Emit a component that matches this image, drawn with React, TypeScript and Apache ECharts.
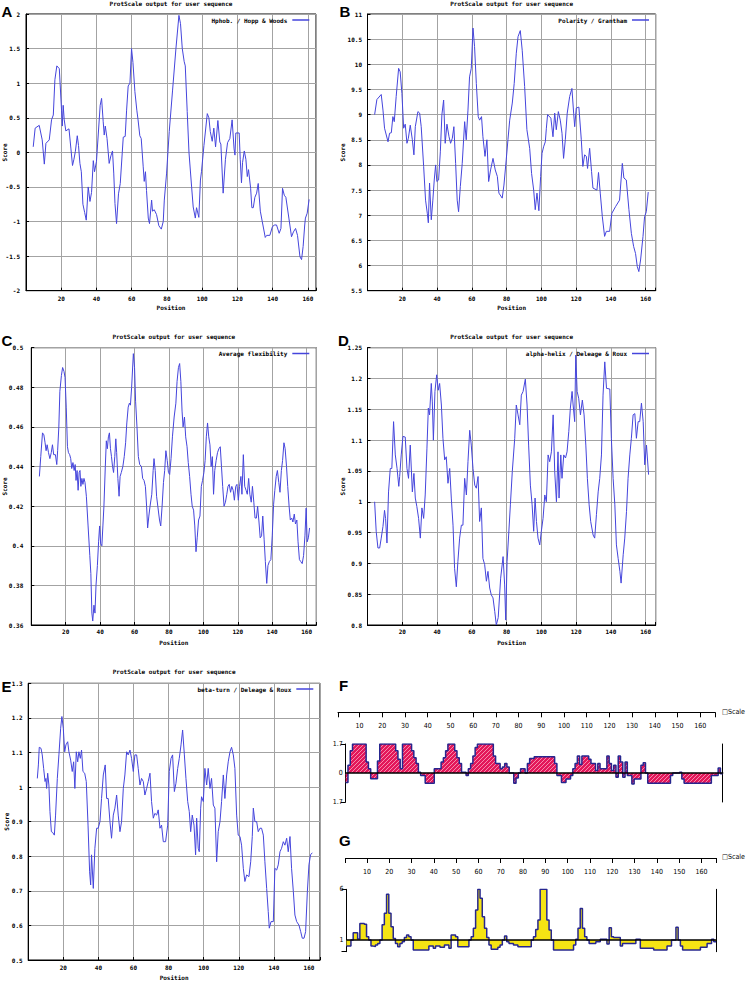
import React, { useEffect, useRef } from 'react';
import * as echarts from 'echarts';

// ---------------- data ----------------
const TITLE = 'ProtScale output for user sequence';
const X_NAME = 'Position';
const Y_NAME = 'Score';
const SCALE_TEXT = '\u25A1Scale';

const NAME_A = 'Hphob. / Hopp & Woods';
const NAME_B = 'Polarity / Grantham';
const NAME_C = 'Average flexibility';
const NAME_D = 'alpha-helix / Deleage & Roux';
const NAME_E = 'beta-turn / Deleage & Roux';
const NAME_F = 'Antigenic index';
const NAME_G = 'Surface probability';

const RULER_MIN = 0.5;
const RULER_MAX = 166.5;
const RULER_TICKS = [10, 20, 30, 40, 50, 60, 70, 80, 90, 100, 110, 120, 130, 140, 150, 160];
const F_LABELS = [-1.7, 0, 1.7];
const G_LABELS = [1, 6];
const G_BASELINE = 1;

const HOPP_WOODS: [number, number][] = [
  [4.1,0.08],[5.2,0.35],[7.5,0.39],[9.2,0.18],[10.4,-0.17],[11.3,0.13],[13.2,0.18],[14.5,0.47],[15.5,0.54],[16.4,1.05],
  [17.5,1.25],[18.9,1.21],[20.2,0.6],[20.6,0.38],[21.1,0.68],[21.7,0.47],[22.6,0.31],[24.4,0.34],[25.5,0.05],[26.4,-0.19],
  [27.2,-0.1],[28,0.01],[29.1,0.24],[29.8,0.1],[30.6,-0.16],[31.4,-0.28],[32.3,-0.75],[33.3,-0.87],[34.2,-0.98],[35.3,-0.5],
  [36.3,-0.71],[37.2,-0.58],[38.2,-0.12],[38.9,-0.28],[40,-0.13],[42.1,0.68],[42.9,0.78],[43.8,0.45],[44.4,0.25],[45,0.38],
  [46,0.2],[47.2,-0.16],[48.2,-0.05],[49.1,0.02],[49.8,-0.3],[50.5,-0.74],[51.4,-1.03],[52.5,-0.6],[53.5,-0.45],[55.2,0.22],
  [56.3,0.23],[57.1,0.61],[58,0.96],[59,1.0],[59.9,1.5],[60.7,1.3],[61.8,0.88],[62.9,0.61],[63.6,0.47],[64.6,0.24],
  [65.4,0.2],[66.5,-0.2],[67.1,-0.42],[67.8,-0.28],[68.4,-0.55],[69.4,-0.95],[70.1,-1.03],[71.3,-0.69],[71.8,-0.85],[72.8,-0.83],
  [74.1,-0.9],[75.4,-1.06],[76.8,-1.11],[77.9,-1.0],[78.5,-0.69],[79.8,-0.3],[81.3,0.3],[83.2,0.9],[85.1,1.5],[86.8,1.98],
  [87.7,1.86],[88.7,1.5],[89.8,1.31],[90.4,1.25],[91.5,0.59],[92.5,0.0],[94,-0.5],[94.9,-0.79],[96.1,-0.95],[96.8,-0.8],
  [98.1,-0.94],[99,-0.4],[99.6,-0.28],[101,0.1],[102.9,0.56],[103.8,0.5],[104.6,0.3],[105.7,0.16],[106.6,0.35],[107.6,0.08],
  [108.9,0.46],[110,0.15],[110.6,0.12],[111.9,-0.59],[113.2,-0.1],[114.4,0.14],[115.7,0.2],[117,0.47],[118.1,0.05],[118.6,-0.04],
  [119.1,0.28],[121,0.28],[121.6,-0.1],[122.3,-0.44],[122.9,-0.15],[123.9,0.02],[124.8,-0.1],[125.6,-0.35],[126.3,-0.25],[127.5,-0.52],
  [128.2,-0.8],[129,-0.8],[129.9,-0.65],[130.9,-0.59],[131.8,-0.45],[133,-0.85],[134.1,-1.0],[135.8,-1.23],[136.6,-1.2],[138.4,-1.2],
  [139.8,-1.08],[140.9,-1.05],[142.2,-1.05],[143.7,-1.17],[144.7,-1.1],[145.6,-0.52],[146.6,-0.62],[147.5,-0.65],[149.2,-0.95],[150.7,-1.22],
  [151.8,-1.15],[153,-1.1],[154.1,-1.2],[155.5,-1.51],[156.4,-1.55],[157.3,-1.36],[158.2,-1.05],[158.6,-0.95],[159.6,-0.88],[160.7,-0.68]
];

const GRANTHAM: [number, number][] = [
  [4.1,9.0],[5.4,9.3],[7.9,9.4],[8.9,9.09],[9.8,8.73],[11.8,8.46],[12.7,8.63],[13.7,8.64],[14.6,8.96],[15.4,8.86],
  [16.5,9.36],[17.9,9.92],[18.8,9.85],[19.8,9.42],[20.8,8.73],[21.7,8.81],[22.7,8.43],[23.5,8.53],[24.6,8.79],[25.8,8.5],
  [26.7,8.2],[27.5,8.76],[29,9.06],[30,9.03],[30.9,8.76],[32.3,7.97],[33.4,7.3],[34.4,7.04],[35,6.85],[35.7,7.64],
  [36.7,6.91],[37.6,7.3],[38.4,7.7],[39.2,8.0],[39.9,7.67],[40.9,7.7],[41.9,8.26],[42.8,9.0],[43.8,9.29],[44.7,8.43],
  [45.7,8.81],[46.9,8.56],[47.8,8.43],[48.8,8.53],[49.7,8.76],[50.7,8.03],[51.6,7.3],[52.4,7.07],[53.4,7.57],[54.5,8.03],
  [55.9,8.86],[56.8,8.5],[57.8,9.09],[58.7,9.75],[59.7,9.92],[60.7,10.72],[61.6,10.35],[62.6,9.62],[63.7,8.96],[64.5,8.89],
  [65.6,8.96],[66.4,8.56],[67.6,8.17],[68.7,8.5],[69.7,7.67],[70.8,7.9],[72.2,8.13],[73.5,7.9],[74.7,7.77],[75.6,7.44],
  [77.5,7.34],[78.5,7.6],[79.8,8.1],[80.8,8.5],[81.8,8.89],[83.3,9.23],[84.4,9.62],[85.6,10.22],[86.6,10.55],[87.9,10.67],
  [89,10.28],[90.4,9.56],[91.7,8.7],[93.3,8.33],[94.4,7.83],[95.6,7.5],[96.5,7.11],[97.5,7.44],[98.6,7.09],[99.6,7.77],
  [100.4,8.23],[101.3,8.36],[102.3,8.46],[102.9,8.73],[103.6,9.0],[105.5,8.93],[106.7,8.56],[107.7,9.03],[108.6,8.7],[109.8,9.06],
  [110.9,8.89],[111.9,8.63],[112.8,8.13],[113.8,8.5],[114.9,9.03],[116.3,9.36],[117.6,9.52],[118.6,9.03],[119.2,8.76],[120.1,9.13],
  [121.6,9.15],[123,8.5],[123.9,7.97],[124.9,8.2],[125.9,8.17],[126.6,7.93],[127.8,8.33],[128.9,7.87],[129.7,7.54],[132,7.5],
  [132.9,7.85],[133.9,7.44],[135.1,6.97],[136.4,6.58],[137.4,6.68],[139.3,6.68],[140.6,7.04],[142.7,7.17],[145,7.3],[146.6,8.03],
  [147.5,7.74],[148.9,7.7],[150.4,7.11],[151.8,6.64],[153.1,6.38],[154.2,6.24],[155.2,5.98],[156.1,5.88],[157.1,6.11],[158.5,6.58],
  [159.4,6.97],[160.4,7.07],[161.5,7.46]
];

const FLEXIBILITY: [number, number][] = [
  [4.7,0.435],[5.5,0.445],[6.5,0.457],[7.3,0.456],[8,0.452],[8.6,0.448],[9.2,0.451],[10,0.447],[10.8,0.444],[11.6,0.447],
  [12.3,0.451],[13,0.446],[14,0.446],[14.8,0.441],[15.3,0.448],[16,0.46],[16.6,0.478],[17.5,0.486],[18.2,0.49],[19,0.488],
  [19.6,0.485],[20.3,0.47],[21,0.45],[21.6,0.447],[22.3,0.446],[22.9,0.444],[23.5,0.439],[24.2,0.442],[24.9,0.438],[25.5,0.441],
  [26,0.433],[26.6,0.438],[27.2,0.428],[27.8,0.437],[28.3,0.438],[28.8,0.43],[29.4,0.434],[30,0.431],[30.6,0.434],[31.2,0.432],
  [32,0.425],[33,0.41],[34,0.395],[34.6,0.386],[35.2,0.366],[35.7,0.362],[36.4,0.37],[37,0.366],[37.6,0.38],[38.4,0.39],
  [39.1,0.402],[39.7,0.41],[40.3,0.401],[41,0.4],[41.6,0.41],[42.2,0.42],[43,0.44],[43.6,0.453],[44.2,0.449],[44.8,0.455],
  [45.4,0.457],[46,0.449],[46.6,0.445],[47.2,0.44],[47.8,0.437],[48.5,0.445],[49.1,0.454],[49.6,0.447],[50.3,0.434],[51,0.425],
  [51.6,0.435],[52.3,0.437],[53.2,0.44],[54,0.445],[54.8,0.452],[55.5,0.462],[56.3,0.47],[57,0.472],[57.6,0.471],[58.3,0.48],
  [59.3,0.497],[60,0.49],[60.6,0.473],[61.4,0.46],[62.2,0.445],[63,0.441],[64,0.44],[64.7,0.434],[65.5,0.433],[66.3,0.43],
  [67,0.42],[67.6,0.409],[68.3,0.415],[69,0.42],[70,0.426],[70.8,0.438],[71.3,0.444],[72,0.438],[72.8,0.425],[73.5,0.42],
  [74.5,0.413],[75.2,0.41],[76,0.42],[76.8,0.432],[77.5,0.438],[78.2,0.448],[79,0.443],[79.7,0.437],[80.4,0.436],[81.2,0.444],
  [82,0.455],[83,0.465],[84,0.472],[84.7,0.483],[85.5,0.49],[86.2,0.492],[86.9,0.483],[87.6,0.468],[88.2,0.46],[89,0.465],
  [89.7,0.455],[90.5,0.45],[91.2,0.442],[92,0.435],[92.8,0.426],[93.5,0.42],[94.3,0.418],[95,0.41],[95.7,0.397],[96.4,0.404],
  [97.2,0.413],[98,0.415],[98.8,0.43],[99.5,0.433],[100.3,0.437],[101,0.443],[101.7,0.455],[102.4,0.462],[103.1,0.455],[103.8,0.451],
  [104.5,0.44],[105.2,0.445],[105.9,0.426],[106.6,0.438],[107.4,0.443],[108.2,0.447],[109,0.449],[109.8,0.45],[110.5,0.44],[111.2,0.43],
  [112,0.42],[112.8,0.422],[113.6,0.426],[114.3,0.43],[115,0.431],[115.8,0.427],[116.5,0.43],[117.3,0.428],[118,0.423],[118.8,0.43],
  [119.5,0.431],[120.3,0.423],[121,0.43],[121.8,0.435],[122.4,0.426],[123.2,0.446],[124,0.43],[124.8,0.428],[125.5,0.426],[126.3,0.434],
  [127,0.426],[127.8,0.422],[128.5,0.43],[129.3,0.422],[130,0.414],[130.8,0.414],[131.5,0.42],[132.3,0.412],[133,0.404],[133.8,0.405],
  [134.5,0.415],[135.3,0.403],[136,0.392],[136.8,0.381],[137.5,0.39],[138.3,0.392],[139.2,0.393],[140,0.405],[140.8,0.421],[141.5,0.428],
  [142.3,0.435],[143,0.438],[143.8,0.432],[144.5,0.427],[145.3,0.438],[146,0.443],[146.8,0.452],[147.5,0.449],[148.3,0.44],[149,0.43],
  [149.8,0.42],[150.5,0.413],[151.3,0.414],[152,0.412],[152.8,0.416],[153.5,0.411],[154.3,0.413],[155,0.402],[155.8,0.393],[156.6,0.392],
  [157.4,0.391],[158.2,0.395],[159,0.405],[159.7,0.419],[160.3,0.402],[161,0.404],[161.7,0.409]
];

const ALPHA_HELIX: [number, number][] = [
  [4.1,1.0],[5,0.952],[6,0.925],[7,0.925],[7.9,0.941],[8.9,0.96],[9.8,0.986],[10.4,0.973],[11.2,0.933],[12.1,1.016],
  [13.1,1.054],[14,1.054],[15,1.13],[16,1.076],[17,1.054],[18,1.025],[18.5,1.041],[19.4,1.076],[20.4,1.106],[21.7,1.105],
  [22.7,1.054],[23.6,1.038],[24.6,1.092],[25.8,1.016],[26.7,1.046],[27.5,1.006],[28.4,0.992],[29.4,0.973],[30.4,0.941],[31.3,0.99],
  [32.3,0.973],[33.2,1.011],[34.2,1.087],[35,1.152],[35.7,1.141],[36.7,1.192],[37.3,1.162],[37.9,1.1],[38.8,1.179],[39.8,1.206],
  [40.7,1.181],[41.5,1.192],[42.5,1.157],[43.4,1.103],[44.4,1.068],[45.3,1.073],[46.3,1.03],[47.3,1.054],[48.2,1.006],[49.2,0.962],
  [50.1,0.892],[51.1,0.862],[52,0.903],[53,0.941],[54,0.962],[54.9,0.962],[55.9,1.038],[56.9,1.011],[57.8,1.065],[58.8,1.116],
  [59.7,1.092],[60.7,1.054],[61.7,1.027],[62.6,1.022],[63.6,1.041],[64.5,0.968],[65.5,0.99],[66.4,0.908],[67.4,0.898],[68.4,0.871],
  [69.3,0.887],[70.3,0.86],[71.2,0.849],[72.2,0.844],[73.2,0.822],[74.1,0.8],[75.2,0.812],[76.6,0.876],[78,0.911],[78.9,0.865],
  [79.5,0.808],[80.3,0.903],[81.2,0.946],[82.2,0.995],[83.3,1.049],[84.7,1.103],[85.6,1.157],[86.6,1.141],[87.6,1.125],[88.5,1.173],
  [89.5,1.179],[90.8,1.199],[91.8,1.157],[92.7,1.092],[93.7,1.027],[94.7,0.995],[95.6,0.952],[96.4,1.006],[97.2,0.968],[98.1,0.941],
  [99.1,0.93],[100,0.952],[101,0.973],[102,1.011],[102.9,1.0],[103.9,1.076],[104.8,1.065],[105.8,1.081],[106.8,1.141],[107.7,1.049],
  [108.7,1.0],[109.6,1.081],[110.2,1.006],[111.2,1.076],[111.9,1.038],[112.9,1.076],[113.9,1.071],[114.8,1.081],[115.8,1.114],[116.7,1.152],
  [117.7,1.179],[118.3,1.157],[119.2,1.13],[119.8,1.238],[120.6,1.179],[121.5,1.168],[122.5,1.141],[123.6,1.165],[124.6,1.141],[125.6,1.092],
  [126.5,1.038],[127.5,0.995],[128.4,0.968],[129.8,0.946],[130.7,0.941],[131.7,0.979],[132.7,1.016],[133.6,1.038],[134.6,1.076],[135.5,1.173],
  [136.5,1.227],[137.5,1.184],[139.4,1.183],[140.3,1.103],[141.3,1.038],[142.3,0.995],[143.2,0.93],[144.2,0.908],[145.2,0.887],[145.9,0.868],
  [147.1,0.914],[148,0.941],[149,0.984],[149.9,1.038],[150.9,1.076],[151.8,1.103],[152.8,1.141],[153.8,1.143],[154.7,1.103],[155.7,1.13],
  [156.6,1.13],[157.6,1.16],[158.6,1.13],[159.5,1.06],[160.5,1.092],[161.7,1.044]
];

const BETA_TURN: [number, number][] = [
  [5.2,1.025],[5.8,1.064],[6.3,1.115],[7.3,1.112],[8,1.093],[8.8,1.054],[9.6,1.016],[10.1,1.025],[10.5,0.996],[11.1,1.04],
  [11.8,1.006],[12.4,0.929],[13.2,0.871],[13.9,0.869],[14.9,0.861],[15.6,0.919],[16.6,1.025],[17.5,1.093],[18.5,1.17],[19.2,1.204],
  [20,1.17],[20.8,1.102],[21.5,1.122],[22.5,1.131],[23.2,1.102],[24.2,1.078],[25.1,1.045],[25.9,1.073],[26.6,0.996],[27.4,1.102],
  [28.2,1.073],[28.9,1.102],[29.7,1.083],[30.4,1.107],[31.2,1.045],[32.2,1.04],[33.1,1.016],[34.1,0.89],[35,0.755],[35.6,0.717],
  [36.1,0.804],[37.1,0.707],[38,0.823],[39,0.881],[39.9,0.881],[40.9,0.9],[41.8,0.967],[42.8,1.035],[43.9,1.064],[44.7,0.967],
  [45.6,0.967],[46.6,0.9],[47.5,0.852],[48.5,0.919],[49.4,0.939],[50.4,0.977],[51.3,0.919],[52.3,0.871],[53.2,0.9],[54.2,0.996],
  [55.1,1.035],[56.1,1.102],[57,1.093],[58,1.107],[58.9,1.083],[59.9,1.045],[60.8,1.093],[61.8,1.093],[62.7,1.054],[63.7,1.006],
  [64.6,1.025],[65.6,1.016],[66.5,0.977],[67.5,0.996],[68.4,1.016],[69.4,1.04],[70.3,0.958],[71.3,0.91],[72.2,0.924],[73.2,0.919],
  [74.1,0.934],[75.1,0.881],[76,0.89],[77,0.842],[78.3,0.842],[79.5,0.89],[80.4,1.045],[81.4,1.083],[82.3,1.093],[83.3,0.987],
  [84.2,1.011],[85.2,1.054],[86.1,1.083],[87.1,1.122],[88,1.165],[89,1.093],[89.9,1.025],[90.9,0.958],[91.8,0.929],[92.6,0.871],
  [93.5,0.919],[94.5,0.89],[95.4,0.804],[96,0.91],[96.9,0.823],[97.5,0.813],[98.3,0.939],[98.8,0.972],[99.8,0.958],[100.7,1.054],
  [101.7,1.006],[102.6,1.054],[103.6,0.996],[104.5,1.025],[105.5,0.948],[106.4,0.939],[107.4,0.784],[108.3,0.871],[109.3,0.9],[110.2,0.958],
  [111.2,1.035],[112.1,0.967],[113.1,1.035],[114,1.073],[115,1.102],[115.9,1.115],[116.9,1.093],[117.8,1.054],[118.8,0.919],[119.7,0.861],
  [120.7,0.857],[121.6,0.832],[122.6,0.765],[123.5,0.727],[124.5,0.746],[125.8,0.741],[126.8,0.784],[127.7,0.857],[128.3,0.939],[129.2,0.9],
  [130.2,0.9],[131.1,0.871],[132.1,0.881],[133,0.881],[134,0.861],[134.9,0.784],[135.9,0.707],[136.8,0.64],[137.4,0.592],[138.4,0.611],
  [139.7,0.611],[140.6,0.765],[141.6,0.76],[142.5,0.775],[143.5,0.813],[144.4,0.823],[145.4,0.842],[146.3,0.832],[147.3,0.852],[148.2,0.813],
  [149.2,0.857],[150.1,0.765],[151.1,0.698],[152,0.63],[153,0.611],[154.3,0.601],[155.3,0.582],[156.2,0.563],[157.2,0.563],[158.1,0.582],
  [159.1,0.698],[160,0.775],[160.9,0.804],[161.9,0.81]
];

// per-residue values, residues 1..166
const ANTIGENIC: number[] = [
  -0.55, 0.45, 1.3, 1.7, 1.7, 1.7, 1.7, 1.7, 1.7, 0.65,
  0.25, -0.33, -0.33, -0.33, 0.7, 1.7, 1.7, 1.7, 1.7, 1.7,
  1.7, 1.7, 1.3, 0.8, 0.25, 1.7, 1.7, 1.7, 1.7, 1.3,
  0.9, 0.55, 0.05, -0.15, -0.15, -0.6, -0.6, -0.6, -0.6, 0.25,
  0.25, 0.25, 0.65, 0.9, 1.3, 1.7, 1.7, 1.7, 1.3, 0.9,
  0.55, 0.05, 0.05, -0.15, 0.25, 0.55, 1.0, 1.5, 1.7, 1.7,
  1.7, 1.7, 1.7, 1.7, 1.7, 1.0, 0.55, 0.55, 0.25, 0.35,
  0.55, 0.35, 0, 0, -0.6, -0.3, 0, 0.25, 0.25, 0,
  0.55, 0.85, 0.85, 0.95, 0.95, 0.95, 0.95, 0.95, 0.95, 0.95,
  0.95, 0.95, 0.55, -0.15, -0.15, -0.55, -0.55, -0.35, -0.35, -0.15,
  0.25, 0.55, 1.0, 0.5, 1.0, 1.0, 1.0, 0.8, 0.55, 0.55,
  0.15, 0.55, 0.25, 0.25, 0.25, 1.0, 0.55, 0.15, 0.45, -0.25,
  1.0, 0.65, -0.25, 0.65, -0.15, -0.15, -0.65, -0.35, -0.35, -0.35,
  0.45, 0.6, 0, -0.6, -0.6, -0.6, -0.6, -0.6, -0.6, -0.6,
  -0.6, -0.6, -0.6, -0.15, 0, 0, 0, 0.05, -0.35, -0.6,
  -0.6, -0.6, -0.6, -0.6, -0.6, -0.6, -0.6, -0.6, -0.6, -0.6,
  -0.6, -0.15, -0.15, -0.15, 0.3, -0.05
];

const SURFACE: number[] = [
  0.41, 0.41, 1.0, 1.72, 1.72, 1.1, 2.64, 2.64, 2.55, 1.33,
  1.0, 0.4, 0.35, 0.5, 0.67, 1.0, 2.5, 3.63, 5.5, 3.63,
  2.3, 1.16, 0.67, 0.34, 0.67, 0.84, 1.26, 1.49, 1.33, 1.0,
  0.01, 0.01, 0.01, 0.01, 0.01, 0.01, 0.01, 0.41, 0.41, 0.18,
  0.41, 0.41, 0.28, 0.28, 0.5, 0.5, 0.18, 1.49, 1.49, 1.33,
  0.34, 0.34, 0.34, 0.34, 0.34, 1.0, 1.33, 2.15, 3.96, 6.0,
  5.11, 3.3, 2.15, 1.26, 0.5, 0.08, 0.08, 0.08, 0.28, 0.5,
  1.0, 1.39, 0.84, 0.67, 0.67, 0.5, 0.5, 0.34, 0.34, 0.34,
  0.34, 0.34, 0.34, 1.0, 1.33, 2.05, 2.97, 6.0, 6.0, 6.0,
  2.97, 1.99, 1.0, 0.01, 0.01, 0.01, 0.01, 0.01, 0.01, 0.01,
  0.01, 0.01, 0.5, 1.07, 2.15, 4.12, 2.15, 1.33, 1.0, 0.67,
  0.67, 0.67, 0.84, 0.84, 1.07, 1.07, 1.07, 0.6, 2.22, 1.33,
  1.26, 1.26, 1.26, 0.41, 0.67, 0.67, 0.67, 0.67, 0.67, 0.67,
  1.07, 1.07, 0.18, 0.18, 0.18, 0.18, 0.18, 0.18, 0.01, 0.01,
  0.01, 0.01, 0.01, 0.01, 0.41, 0.41, 1.0, 1.0, 2.25, 1.0,
  0.41, 0.01, 0.01, 0.01, 0.01, 0.01, 0.01, 0.01, 0.01, 0.28,
  0.28, 0.28, 0.67, 0.67, 1.07, 0.84
];

// ---------------- styling / layout ----------------
const MONO = "'DejaVu Sans Mono', monospace";
const NARROW = "'Liberation Sans Narrow', 'DejaVu Sans Condensed', sans-serif";
const LETTER_FONT = "bold 15px 'Liberation Sans', Arial, sans-serif";
const LINE_COLOR = '#4545dc';
const GRID_COLOR = '#a3a3a3';
const OUTLINE = '#26268f';
const YELLOW = '#f5e414';

type Panel = {
  name: string; data: [number, number][]; letter: string;
  left: number; top: number; width: number; height: number; xMax: number;
  yMin: number; yMax: number; yStep: number;
  yLabelMargin: number; xLabelMargin: number; scoreX: number;
  legendRight: number; legendTop: number; letterX: number; letterY: number; titleY: number;
};

const PANELS: Panel[] = [
  { name: NAME_A, data: HOPP_WOODS, letter: 'A', left: 26, top: 14, width: 290, height: 276.7, xMax: 164.6,
    yMin: -2, yMax: 2, yStep: 0.5, yLabelMargin: 6, xLabelMargin: 5, scoreX: 4.5,
    legendRight: 436.7, legendTop: 17, letterX: 1.5, letterY: 11.5, titleY: 3.5 },
  { name: NAME_B, data: GRANTHAM, letter: 'B', left: 367.5, top: 14, width: 288.2, height: 276.7, xMax: 165.8,
    yMin: 5.5, yMax: 11, yStep: 0.5, yLabelMargin: 5.5, xLabelMargin: 5, scoreX: 342,
    legendRight: 97, legendTop: 17, letterX: 339.5, letterY: 11, titleY: 3.5 },
  { name: NAME_C, data: FLEXIBILITY, letter: 'C', left: 31.3, top: 347.7, width: 285, height: 277.3, xMax: 165.6,
    yMin: 0.36, yMax: 0.5, yStep: 0.02, yLabelMargin: 8, xLabelMargin: 3.5, scoreX: 4.5,
    legendRight: 436.7, legendTop: 350.5, letterX: 1.5, letterY: 340, titleY: 336.7 },
  { name: NAME_D, data: ALPHA_HELIX, letter: 'D', left: 367.5, top: 347.7, width: 288.2, height: 277.3, xMax: 165.8,
    yMin: 0.8, yMax: 1.25, yStep: 0.05, yLabelMargin: 5.5, xLabelMargin: 3.5, scoreX: 342,
    legendRight: 97, legendTop: 350.5, letterX: 338, letterY: 340, titleY: 336.7 },
  { name: NAME_E, data: BETA_TURN, letter: 'E', left: 28.2, top: 683.3, width: 291.8, height: 276.7, xMax: 166.3,
    yMin: 0.5, yMax: 1.3, yStep: 0.1, yLabelMargin: 5.5, xLabelMargin: 4, scoreX: 6,
    legendRight: 432.7, legendTop: 686, letterX: 1.5, letterY: 686, titleY: 671.7 },
];

const smallText = { fontSize: 6, fontFamily: MONO, fontWeight: 'bold' as const, color: '#000' };

function stepData(vals: number[]): [number, number][] {
  const pts: [number, number][] = vals.map((v, i) => [i + 0.5, v]);
  pts.push([vals.length + 0.5, vals[vals.length - 1]]);
  return pts;
}

function makeHatch(): HTMLCanvasElement {
  const c = document.createElement('canvas');
  c.width = 4; c.height = 4;
  const ctx = c.getContext('2d')!;
  ctx.fillStyle = '#e3175a';
  ctx.fillRect(0, 0, 4, 4);
  ctx.fillStyle = '#f58aac';
  for (let i = 0; i < 4; i++) ctx.fillRect(i, 3 - i, 1, 1);
  return c;
}

function buildOption() {
  const grid: any[] = [];
  const xAxis: any[] = [];
  const yAxis: any[] = [];
  const series: any[] = [];
  const legend: any[] = [];
  const graphic: any[] = [];

  PANELS.forEach((p, i) => {
    grid.push({ left: p.left, top: p.top, width: p.width, height: p.height, show: true,
      borderColor: '#000', borderWidth: 1, containLabel: false, outerBoundsMode: 'none' });
    xAxis.push({
      type: 'value', gridIndex: i, min: 0, max: p.xMax, interval: 20,
      axisLine: { show: true, onZero: false, lineStyle: { color: '#000', width: 1 } },
      axisTick: { show: true, inside: true, length: 3, lineStyle: { color: '#000' } },
      axisLabel: { ...smallText, margin: p.xLabelMargin,
        formatter: (v: number) => (v > 0 && Math.abs(v % 20) < 1e-6 ? String(v) : '') },
      splitLine: { show: true, lineStyle: { color: GRID_COLOR, width: 1 } },
      name: X_NAME, nameLocation: 'middle', nameGap: 14, nameTextStyle: smallText,
    });
    yAxis.push({
      type: 'value', gridIndex: i, min: p.yMin, max: p.yMax, interval: p.yStep,
      axisLine: { show: true, lineStyle: { color: '#000', width: 1 } },
      axisTick: { show: true, inside: true, length: 3, lineStyle: { color: '#000' } },
      axisLabel: { ...smallText, margin: p.yLabelMargin },
      splitLine: { show: true, lineStyle: { color: GRID_COLOR, width: 1 } },
    });
    series.push({
      type: 'line', name: p.name, xAxisIndex: i, yAxisIndex: i, data: p.data,
      showSymbol: false, symbol: 'none', color: LINE_COLOR,
      lineStyle: { color: LINE_COLOR, width: 1 },
    });
    legend.push({
      data: [p.name], right: p.legendRight, top: p.legendTop, align: 'right', orient: 'horizontal',
      icon: 'rect', itemWidth: 17, itemHeight: 1.5, padding: 0, itemGap: 0, selectedMode: false,
      textStyle: { fontSize: 6, fontFamily: MONO, fontWeight: 'bold', color: '#000' },
    });
    graphic.push({ type: 'text', x: p.left + p.width / 2, y: p.titleY, silent: true,
      style: { text: TITLE, align: 'center', verticalAlign: 'middle', font: `bold 6px ${MONO}`, fill: '#000' } });
    graphic.push({ type: 'text', x: p.scoreX, y: p.top + p.height / 2, rotation: Math.PI / 2, silent: true,
      style: { text: Y_NAME, align: 'center', verticalAlign: 'middle', font: `bold 6px ${MONO}`, fill: '#000' } });
    graphic.push({ type: 'text', x: p.letterX, y: p.letterY, silent: true,
      style: { text: p.letter, align: 'left', verticalAlign: 'middle', font: LETTER_FONT, fill: '#000' } });
  });

  const hatch = makeHatch();
  grid.push({ left: 345.7, top: 744, width: 377, height: 58, containLabel: false, outerBoundsMode: 'none' }); // 5 F
  grid.push({ left: 338, top: 711.3, width: 377, height: 1, containLabel: false, outerBoundsMode: 'none' }); // 6 F ruler
  grid.push({ left: 346.5, top: 889.3, width: 369.5, height: 62.4, containLabel: false, outerBoundsMode: 'none' }); // 7 G
  grid.push({ left: 345.7, top: 857, width: 370.3, height: 1, containLabel: false, outerBoundsMode: 'none' }); // 8 G ruler

  const hidden = { show: false };
  const narrowLabel = { fontSize: 7, fontFamily: NARROW, color: '#000' };

  xAxis.push({ type: 'value', gridIndex: 5, min: RULER_MIN, max: RULER_MAX, z: 10,
    axisLine: { show: true, onZero: true, lineStyle: { color: '#000', width: 1.5 } },
    axisTick: hidden, axisLabel: hidden, splitLine: hidden });
  const rulerAxis = (gi: number) => ({ type: 'value', gridIndex: gi, min: RULER_MIN, max: RULER_MAX, position: 'bottom',
    axisLine: { show: true, onZero: false, lineStyle: { color: '#000', width: 1 } },
    axisTick: { show: true, inside: false, length: 5, customValues: [RULER_MIN, ...RULER_TICKS, RULER_MAX],
      lineStyle: { color: '#000', width: 1 } },
    axisLabel: { ...narrowLabel, customValues: RULER_TICKS, margin: 10 },
    splitLine: hidden });
  xAxis.push(rulerAxis(6));
  xAxis.push({ type: 'value', gridIndex: 7, min: RULER_MIN, max: RULER_MAX,
    axisLine: hidden, axisTick: hidden, axisLabel: hidden, splitLine: hidden });
  xAxis.push(rulerAxis(8));

  yAxis.push({ type: 'value', gridIndex: 5, min: -1.7, max: 1.7, position: 'left',
    axisLine: { show: true, onZero: false, lineStyle: { color: '#000', width: 1 } },
    axisTick: { show: true, inside: false, length: 5, customValues: [-1.7, 1.7], lineStyle: { color: '#000' } },
    axisLabel: { ...narrowLabel, customValues: F_LABELS, margin: 3,
      formatter: (v: number) => String(Math.abs(v)) },
    splitLine: hidden });
  yAxis.push({ type: 'value', gridIndex: 5, min: -1.7, max: 1.7, position: 'right',
    axisLine: { show: true, onZero: false, lineStyle: { color: '#000', width: 1 } },
    axisTick: hidden, axisLabel: hidden, splitLine: hidden });
  yAxis.push({ type: 'value', gridIndex: 6, min: 0, max: 1, show: false });
  yAxis.push({ type: 'value', gridIndex: 7, min: -0.15, max: 6, position: 'left',
    axisLine: { show: true, onZero: false, lineStyle: { color: '#000', width: 1 } },
    axisTick: { show: true, inside: false, length: 5, customValues: [-0.15, 6], lineStyle: { color: '#000' } },
    axisLabel: { ...narrowLabel, customValues: G_LABELS, margin: 3 },
    splitLine: hidden });
  yAxis.push({ type: 'value', gridIndex: 7, min: -0.15, max: 6, position: 'right',
    axisLine: { show: true, onZero: false, lineStyle: { color: '#000', width: 1 } },
    axisTick: hidden, axisLabel: hidden, splitLine: hidden });
  yAxis.push({ type: 'value', gridIndex: 8, min: 0, max: 1, show: false });

  series.push({
    type: 'line', name: NAME_F, xAxisIndex: 5, yAxisIndex: 5, data: stepData(ANTIGENIC), step: 'end',
    symbol: 'none', showSymbol: false, color: OUTLINE,
    lineStyle: { color: OUTLINE, width: 1.5 },
    areaStyle: { origin: 0, opacity: 1, color: { image: hatch, repeat: 'repeat', imageWidth: 4, imageHeight: 4 } },
  });
  series.push({
    type: 'line', name: NAME_G, xAxisIndex: 7, yAxisIndex: 8, data: stepData(SURFACE), step: 'end',
    symbol: 'none', showSymbol: false, color: OUTLINE,
    lineStyle: { color: OUTLINE, width: 1.5 },
    areaStyle: { origin: G_BASELINE, opacity: 1, color: YELLOW },
    markLine: { silent: true, symbol: 'none', label: { show: false }, animation: false,
      lineStyle: { color: '#000', width: 1.5, type: 'solid' }, data: [{ yAxis: G_BASELINE }] },
  });

  graphic.push({ type: 'text', x: 339, y: 685.5, silent: true,
    style: { text: 'F', align: 'left', verticalAlign: 'middle', font: LETTER_FONT, fill: '#000' } });
  graphic.push({ type: 'text', x: 339, y: 840, silent: true,
    style: { text: 'G', align: 'left', verticalAlign: 'middle', font: LETTER_FONT, fill: '#000' } });
  graphic.push({ type: 'text', x: 745, y: 711.5, silent: true,
    style: { text: SCALE_TEXT, align: 'right', verticalAlign: 'middle', font: `7px ${NARROW}`, fill: '#000' } });
  graphic.push({ type: 'text', x: 745, y: 857, silent: true,
    style: { text: SCALE_TEXT, align: 'right', verticalAlign: 'middle', font: `7px ${NARROW}`, fill: '#000' } });

  return {
    animation: false,
    backgroundColor: '#fff',
    textStyle: { fontFamily: MONO },
    grid, xAxis, yAxis, series, legend, graphic,
  };
}

export default function App() {
  const ref = useRef<HTMLDivElement>(null);
  useEffect(() => {
    document.body.style.margin = '0';
    if (!ref.current) return;
    const chart = echarts.init(ref.current, undefined, { renderer: 'svg' });
    chart.setOption(buildOption() as any);
    return () => chart.dispose();
  }, []);
  return <div ref={ref} style={{ width: 746, height: 981 }} />;
}
